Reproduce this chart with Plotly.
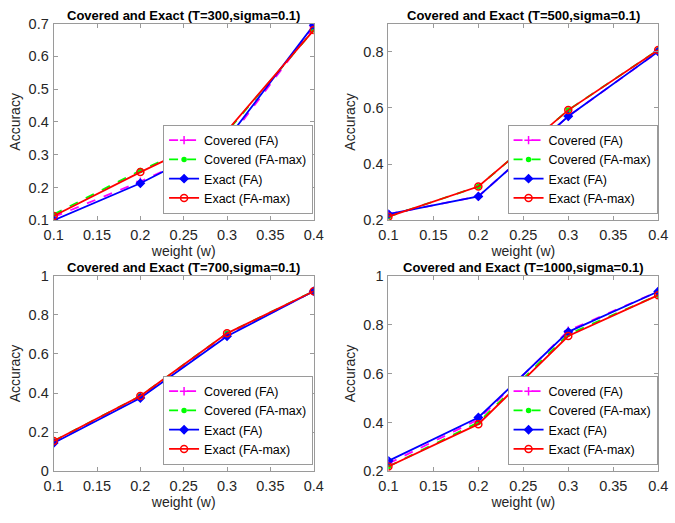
import plotly.graph_objects as go

weights = [0.1, 0.2, 0.3, 0.4]

# Accuracy per run (T value), one list per method
t300_covered_fa = [0.110, 0.218, 0.340, 0.690]
t300_covered_famax = [0.118, 0.252, 0.370, 0.680]
t300_exact_fa = [0.100, 0.213, 0.347, 0.695]
t300_exact_famax = [0.113, 0.247, 0.373, 0.680]

t500_covered_fa = [0.222, 0.285, 0.570, 0.800]
t500_covered_famax = [0.213, 0.320, 0.592, 0.806]
t500_exact_fa = [0.222, 0.285, 0.570, 0.800]
t500_exact_famax = [0.213, 0.320, 0.592, 0.806]

t700_covered_fa = [0.148, 0.378, 0.695, 0.920]
t700_covered_famax = [0.155, 0.385, 0.705, 0.920]
t700_exact_fa = [0.145, 0.375, 0.690, 0.920]
t700_exact_famax = [0.155, 0.385, 0.705, 0.920]

t1000_covered_fa = [0.232, 0.412, 0.775, 0.935]
t1000_covered_famax = [0.220, 0.400, 0.760, 0.920]
t1000_exact_fa = [0.243, 0.420, 0.770, 0.935]
t1000_exact_famax = [0.220, 0.393, 0.753, 0.920]

titles = [
    "Covered and Exact (T=300,sigma=0.1)",
    "Covered and Exact (T=500,sigma=0.1)",
    "Covered and Exact (T=700,sigma=0.1)",
    "Covered and Exact (T=1000,sigma=0.1)",
]
series_names = ["Covered (FA)", "Covered (FA-max)", "Exact (FA)", "Exact (FA-max)"]
panels = [
    [t300_covered_fa, t300_covered_famax, t300_exact_fa, t300_exact_famax],
    [t500_covered_fa, t500_covered_famax, t500_exact_fa, t500_exact_famax],
    [t700_covered_fa, t700_covered_famax, t700_exact_fa, t700_exact_famax],
    [t1000_covered_fa, t1000_covered_famax, t1000_exact_fa, t1000_exact_famax],
]
y_ranges = [[0.1, 0.7], [0.2, 0.9], [0, 1], [0.2, 1]]
y_ticks = [
    [0.1, 0.2, 0.3, 0.4, 0.5, 0.6, 0.7],
    [0.2, 0.4, 0.6, 0.8],
    [0, 0.2, 0.4, 0.6, 0.8, 1],
    [0.2, 0.4, 0.6, 0.8, 1],
]
x_ticks = [0.1, 0.15, 0.2, 0.25, 0.3, 0.35, 0.4]

W, H = 675, 523
# plot-area boxes in pixels: (left, right, top, bottom)
boxes = [(45, 313, 16, 219), (390, 668, 16, 219), (45, 313, 276, 478), (390, 668, 276, 478)]

styles = [
    dict(color="#ff00ff", dash="dash", symbol="cross-thin", msize=6, fill="#ff00ff"),
    dict(color="#00ff00", dash="dash", symbol="circle", msize=4, fill="#00ff00"),
    dict(color="#0000ff", dash="solid", symbol="diamond", msize=6, fill="#0000ff"),
    dict(color="#ff0000", dash="solid", symbol="circle-open", msize=7, fill="#ff0000"),
]

axis_color = "#262626"
box_color = "#9a9a9a"
font_family = "Liberation Sans, Arial, sans-serif"

fig = go.Figure()
layout = dict(
    width=W, height=H, margin=dict(l=0, r=0, t=0, b=0),
    paper_bgcolor="white", plot_bgcolor="white",
    font=dict(family=font_family, color=axis_color),
    annotations=[],
)

for i, (vals, box) in enumerate(zip(panels, boxes)):
    n = i + 1
    xa = "x" if n == 1 else f"x{n}"
    ya = "y" if n == 1 else f"y{n}"
    leg = "legend" if n == 1 else f"legend{n}"
    l, r, t, b = box
    xdom = [l / W, r / W]
    ydom = [1 - b / H, 1 - t / H]
    for name, yv, st in zip(series_names, vals, styles):
        fig.add_trace(go.Scatter(
            x=weights, y=yv, name=name, xaxis=xa, yaxis=ya, legend=leg,
            mode="lines+markers",
            line=dict(color=st["color"], width=1.8, dash=st["dash"]),
            marker=dict(symbol=st["symbol"], size=st["msize"], color=st["fill"],
                        line=dict(color=st["color"], width=1.5)),
        ))
    common = dict(showgrid=False, zeroline=False, showline=True, mirror="ticks",
                  linecolor=box_color, linewidth=1, ticks="inside", ticklen=4,
                  tickcolor=box_color, tickfont=dict(size=14.5, color=axis_color))
    layout["xaxis" if n == 1 else f"xaxis{n}"] = dict(
        domain=xdom, anchor=ya, range=[0.1, 0.4], tickvals=x_ticks,
        ticktext=[f"{v:g}" for v in x_ticks], ticklabelstandoff=1,
        title=dict(text="weight (w)", font=dict(size=14, color=axis_color), standoff=2),
        **common)
    layout["yaxis" if n == 1 else f"yaxis{n}"] = dict(
        domain=ydom, anchor=xa, range=y_ranges[i], tickvals=y_ticks[i],
        ticktext=[f"{v:g}" for v in y_ticks[i]], ticklabelstandoff=1,
        title=dict(text="Accuracy", font=dict(size=14, color=axis_color), standoff=4),
        **common)
    layout[leg] = dict(
        x=r / W - 0.001, y=1 - (b - 7) / H, xanchor="right", yanchor="bottom",
        bgcolor="white", bordercolor=box_color, borderwidth=1,
        font=dict(size=12.5, color="black"), tracegroupgap=0,
        itemwidth=30, traceorder="normal",
    )
    layout["annotations"].append(dict(
        text=f"<b>{titles[i]}</b>", x=(l + r) / 2 / W, y=1 - (t - 8) / H,
        xref="paper", yref="paper", xanchor="center", yanchor="middle",
        showarrow=False, font=dict(size=13, color="black"),
    ))

fig.update_layout(**layout)
fig.write_html("out.html")
